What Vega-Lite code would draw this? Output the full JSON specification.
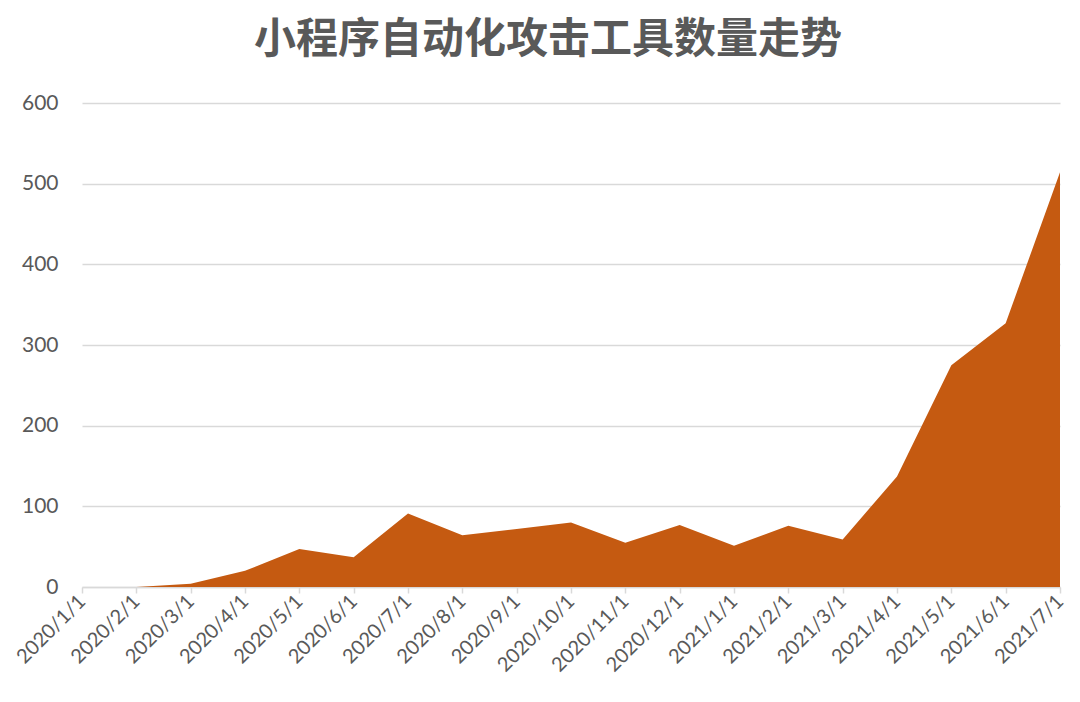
{
  "$schema": "https://vega.github.io/schema/vega-lite/v6.json",
  "autosize": {"type": "none"},
  "padding": {"left": 82, "top": 103, "right": 20, "bottom": 115},
  "width": 978,
  "height": 484,
  "background": "white",
  "title": {
    "text": "小程序自动化攻击工具数量走势",
    "font": "Noto Sans CJK SC",
    "fontSize": 42,
    "fontWeight": "bold",
    "color": "#595959",
    "anchor": "middle",
    "frame": "bounds",
    "offset": 30,
    "dx": 8
  },
  "data": {
    "values": [
      {"date": "2020/1/1", "count": 0},
      {"date": "2020/2/1", "count": 0},
      {"date": "2020/3/1", "count": 4},
      {"date": "2020/4/1", "count": 20},
      {"date": "2020/5/1", "count": 47},
      {"date": "2020/6/1", "count": 37},
      {"date": "2020/7/1", "count": 91},
      {"date": "2020/8/1", "count": 64},
      {"date": "2020/9/1", "count": 72},
      {"date": "2020/10/1", "count": 80},
      {"date": "2020/11/1", "count": 55},
      {"date": "2020/12/1", "count": 77},
      {"date": "2021/1/1", "count": 51},
      {"date": "2021/2/1", "count": 76},
      {"date": "2021/3/1", "count": 59},
      {"date": "2021/4/1", "count": 137},
      {"date": "2021/5/1", "count": 275},
      {"date": "2021/6/1", "count": 327},
      {"date": "2021/7/1", "count": 514}
    ]
  },
  "mark": {"type": "area", "color": "#C55A11", "opacity": 1},
  "encoding": {
    "x": {
      "field": "date",
      "type": "ordinal",
      "sort": null,
      "scale": {"type": "point", "padding": 0},
      "axis": {
        "title": null,
        "labelAngle": -45,
        "labelAlign": "right",
        "labelBaseline": "middle",
        "labelFont": "Lato",
        "labelFontSize": 20,
        "labelColor": "#595959",
        "labelPadding": 5,
        "labelOverlap": false,
        "domainColor": "#D9D9D9",
        "domainWidth": 1.5,
        "tickColor": "#D9D9D9",
        "tickWidth": 1.5,
        "tickSize": 6,
        "grid": false
      }
    },
    "y": {
      "field": "count",
      "type": "quantitative",
      "scale": {"domain": [0, 600]},
      "axis": {
        "title": null,
        "values": [0, 100, 200, 300, 400, 500, 600],
        "labelFont": "Lato",
        "labelFontSize": 21,
        "labelColor": "#595959",
        "labelPadding": 24,
        "ticks": false,
        "domain": false,
        "grid": true,
        "gridColor": "#D9D9D9",
        "gridWidth": 1.5
      }
    }
  },
  "config": {"view": {"stroke": null}}
}
